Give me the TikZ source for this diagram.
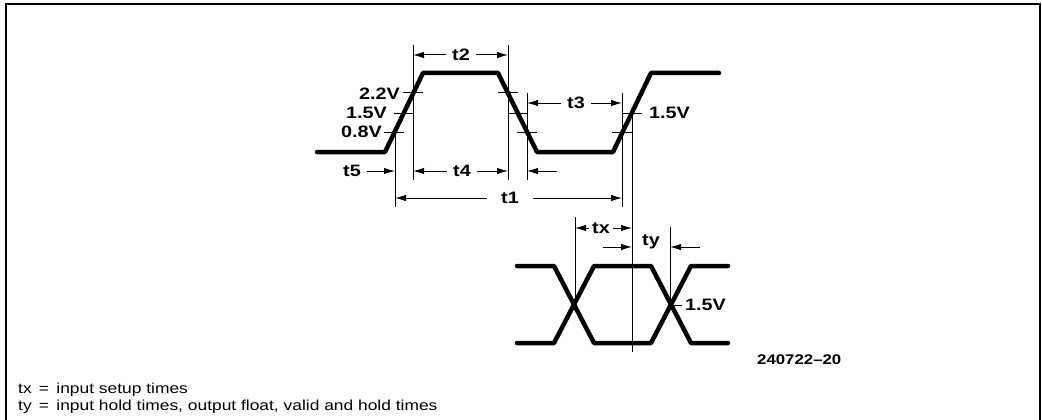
\documentclass[tikz,border=0pt]{standalone}
\usepackage{fontspec}
\setmainfont{Liberation Sans}
\newfontfamily\labfont[FakeStretch=1.2]{Liberation Sans}
\usetikzlibrary{arrows.meta}
\begin{document}
\begin{tikzpicture}[x=1pt,y=-1pt,
  wave/.style={line width=4.5pt,line join=round,line cap=round},
  guide/.style={line width=1pt},
  dimarrow/.style={line width=1pt,-{Latex[length=11pt,width=6.5pt]}},
  lab/.style={font=\labfont\bfseries\fontsize{16.5}{18}\selectfont,inner sep=0pt},
  legend/.style={font=\labfont\fontsize{14.5}{17}\selectfont,inner sep=0pt,anchor=west},
  frame/.style={line width=2pt}]
\useasboundingbox (0,0) rectangle (1042,420);
% frame
\coordinate (f1) at (6,420);
\coordinate (f2) at (6,4);
\coordinate (f3) at (1040,4);
\coordinate (f4) at (1040,420);
\draw[frame] (f1) -- (f2) -- (f3) -- (f4);
% upper waveform
\coordinate (a0) at (317,152);
\coordinate (a1) at (385,152);
\coordinate (a2) at (423,73);
\coordinate (a3) at (498,73);
\coordinate (a4) at (537,152);
\coordinate (a5) at (613,152);
\coordinate (a6) at (651,73);
\coordinate (a7) at (719,73);
\draw[wave] (a0) -- (a1) -- (a2) -- (a3) -- (a4) -- (a5) -- (a6) -- (a7);
% threshold ticks
\foreach \xa/\xb/\yy [count=\i] in {403/423/93, 394/414/113, 384/404/132,
   498/518/93, 508/528/113, 517/537/132, 623/642/113, 612/632/132}{
  \coordinate (tk\i a) at (\xa,\yy);
  \coordinate (tk\i b) at (\xb,\yy);
  \draw[guide] (tk\i a) -- (tk\i b);
}
% vertical guides
\foreach \n/\xx/\ya/\yb in {v395/395/132/207, v413/413/45/180, v508/508/45/180,
   v527/527/93/180, v622/622/93/207, v632/632/112/352, v575/575/217/305, v670/670/227/305}{
  \coordinate (\n t) at (\xx,\ya);
  \coordinate (\n b) at (\xx,\yb);
  \draw[guide] (\n t) -- (\n b);
}
% voltage labels
\node[lab,anchor=east] (l22) at (400,94) {2.2V};
\node[lab,anchor=east] (l15) at (387,113) {1.5V};
\node[lab,anchor=east] (l08) at (382,132) {0.8V};
\node[lab,anchor=west] (l15b) at (649,113) {1.5V};
% t2
\node[lab] (t2) at (461,55) {t2};
\coordinate (t2l) at (413,55); \coordinate (t2r) at (508,55);
\draw[dimarrow] (t2.west) ++(-6,0) -- (t2l);
\draw[dimarrow] (t2.east) ++(6,0) -- (t2r);
% t3
\node[lab] (t3) at (576,103) {t3};
\coordinate (t3l) at (527,103); \coordinate (t3r) at (622,103);
\draw[dimarrow] (t3.west) ++(-6,0) -- (t3l);
\draw[dimarrow] (t3.east) ++(6,0) -- (t3r);
% t4
\node[lab] (t4) at (462,171) {t4};
\coordinate (t4l) at (413,171); \coordinate (t4r) at (508,171);
\draw[dimarrow] (t4.west) ++(-6,0) -- (t4l);
\draw[dimarrow] (t4.east) ++(6,0) -- (t4r);
% t5 and fall arrow
\node[lab] (t5) at (352,171) {t5};
\coordinate (t5r) at (395,171);
\draw[dimarrow] (t5.east) ++(6,0) -- (t5r);
\coordinate (fs) at (557,171); \coordinate (fe) at (527,171);
\draw[dimarrow] (fs) -- (fe);
% t1
\node[lab] (t1) at (510,198) {t1};
\coordinate (t1l) at (395,198); \coordinate (t1r) at (622,198);
\draw[dimarrow] (t1.west) ++(-14,0) -- (t1l);
\draw[dimarrow] (t1.east) ++(14,0) -- (t1r);
% lower waveform
\coordinate (b0) at (517,266); \coordinate (b1) at (554,266);
\coordinate (b2) at (594,343); \coordinate (b3) at (651,343);
\coordinate (b4) at (691,266); \coordinate (b5) at (728,266);
\coordinate (c0) at (517,343); \coordinate (c1) at (554,343);
\coordinate (c2) at (594,266); \coordinate (c3) at (651,266);
\coordinate (c4) at (691,343); \coordinate (c5) at (728,343);
\draw[wave] (b0) -- (b1) -- (b2) -- (b3) -- (b4) -- (b5);
\draw[wave] (c0) -- (c1) -- (c2) -- (c3) -- (c4) -- (c5);
% tx
\node[lab] (tx) at (601,228) {tx};
\coordinate (txl) at (575,228); \coordinate (txr) at (632,228);
\draw[dimarrow] (tx.west) ++(-3,0) -- (txl);
\draw[dimarrow] (tx.east) ++(3,0) -- (txr);
% ty
\node[lab] (ty) at (651,242) {ty};
\coordinate (tya) at (603,247); \coordinate (tyb) at (632,247);
\coordinate (tyc) at (700,247); \coordinate (tyd) at (670,247);
\draw[dimarrow] (tya) -- (tyb);
\draw[dimarrow] (tyc) -- (tyd);
% 1.5V on lower
\coordinate (k1) at (672,305); \coordinate (k2) at (682,305);
\draw[guide] (k1) -- (k2);
\node[lab,anchor=west] (l15c) at (685,305) {1.5V};
% figure number
\node[lab,anchor=west,font=\labfont\bfseries\fontsize{14}{16}\selectfont] (fig) at (757,360) {240722–20};
% legend
\node[legend] (lg1) at (18,390) {tx\enspace=\enspace input setup times};
\node[legend] (lg2) at (18,407) {ty\enspace=\enspace input hold times, output float, valid and hold times};
\end{tikzpicture}
\end{document}
